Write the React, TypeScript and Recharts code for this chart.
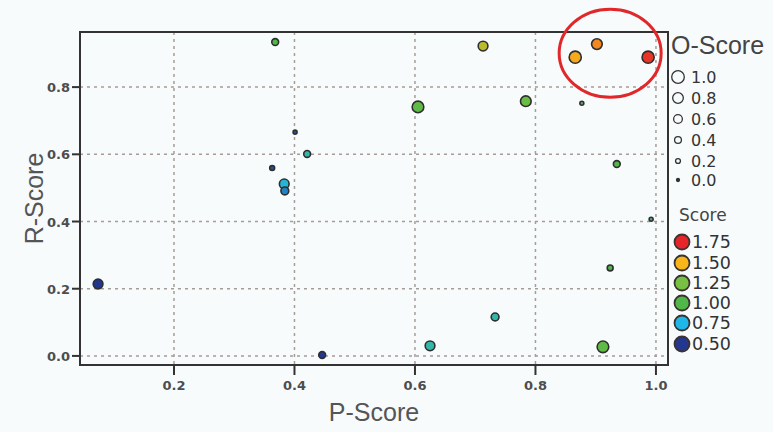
import {
  ScatterChart,
  Scatter,
  XAxis,
  YAxis,
  CartesianGrid,
  ReferenceArea,
  ReferenceDot,
} from 'recharts';

// P-Score (x), R-Score (y), O-Score (dot size), Score (dot colour)
const P_SCORE = [0.368, 0.713, 0.866, 0.902, 0.987, 0.605, 0.784, 0.877, 0.401, 0.421, 0.363, 0.383, 0.384, 0.935, 0.992, 0.924, 0.074, 0.733, 0.625, 0.912, 0.446];
const R_SCORE = [0.934, 0.922, 0.889, 0.928, 0.889, 0.741, 0.758, 0.752, 0.666, 0.601, 0.559, 0.512, 0.491, 0.571, 0.407, 0.262, 0.214, 0.116, 0.03, 0.027, 0.003];
const O_SCORE = [0.4, 0.7, 0.95, 0.8, 0.95, 0.9, 0.8, 0.1, 0.1, 0.4, 0.2, 0.7, 0.5, 0.4, 0.1, 0.3, 0.7, 0.5, 0.7, 0.9, 0.4];
const SCORE = [1.0, 1.38, 1.52, 1.58, 1.72, 1.1, 1.15, 0.95, 0.55, 0.85, 0.55, 0.78, 0.65, 1.0, 0.9, 1.0, 0.5, 0.85, 0.85, 1.1, 0.5];

const X_TICKS = [0.2, 0.4, 0.6, 0.8, 1.0];
const Y_TICKS = [0, 0.2, 0.4, 0.6, 0.8];
const X_DOMAIN = [0.044, 1.02];
const Y_DOMAIN = [-0.027, 0.964];

const O_LEGEND = [1.0, 0.8, 0.6, 0.4, 0.2, 0.0];
const SCORE_LEGEND = [1.75, 1.5, 1.25, 1.0, 0.75, 0.5];

// circled group in the top right corner
const HIGHLIGHT = { p: 0.924, r: 0.901 };

const STOPS: [number, string][] = [
  [0.5, '#24378f'],
  [0.75, '#1fb6e8'],
  [1.0, '#50b848'],
  [1.25, '#78c043'],
  [1.5, '#f8b61a'],
  [1.75, '#e5252a'],
];

const hex = (c: string) => [1, 3, 5].map((i) => parseInt(c.slice(i, i + 2), 16));

function scoreColor(s: number) {
  if (s <= STOPS[0][0]) return STOPS[0][1];
  for (let i = 1; i < STOPS.length; i++) {
    if (s <= STOPS[i][0]) {
      const [s0, c0] = STOPS[i - 1];
      const [s1, c1] = STOPS[i];
      const t = (s - s0) / (s1 - s0);
      const a = hex(c0);
      const b = hex(c1);
      const m = a.map((v, k) => Math.round(v + (b[k] - v) * t));
      return `rgb(${m[0]},${m[1]},${m[2]})`;
    }
  }
  return STOPS[STOPS.length - 1][1];
}

const radius = (o: number) => 1.5 + 4.8 * o;

const data = P_SCORE.map((p, i) => ({ p, r: R_SCORE[i], o: O_SCORE[i], s: SCORE[i] }));

const BG = '#f8fbfc';

function XTick({ x, y, payload }: any) {
  return (
    <text
      x={x}
      y={y + 13}
      textAnchor="middle"
      fontSize={13}
      fontWeight="bold"
      fontFamily="DejaVu Sans"
      fill="#4d4d4d"
    >
      {Number(payload.value).toFixed(1)}
    </text>
  );
}

function YTick({ x, y, payload }: any) {
  return (
    <text
      x={x}
      y={y + 5}
      textAnchor="end"
      fontSize={13}
      fontWeight="bold"
      fontFamily="DejaVu Sans"
      fill="#4d4d4d"
    >
      {Number(payload.value).toFixed(1)}
    </text>
  );
}

function Dot(props: any) {
  const { cx, cy, payload } = props;
  if (cx == null || cy == null) return null;
  return (
    <circle
      cx={cx}
      cy={cy}
      r={radius(payload.o)}
      fill={scoreColor(payload.s)}
      stroke="#2e2e2e"
      strokeWidth={1.6}
    />
  );
}

function Legends() {
  const sizeRows = [77, 98, 119, 140, 161, 180];
  const colorRows = [242, 263, 283, 303, 323, 344];
  return (
    <svg
      width={773}
      height={432}
      style={{ position: 'absolute', left: 0, top: 0, pointerEvents: 'none' }}
    >
      <text x={671} y={54} fontSize={25} fontFamily="Liberation Sans" fill="#444">
        O-Score
      </text>
      {O_LEGEND.map((o, i) => (
        <g key={o}>
          <circle
            cx={678}
            cy={sizeRows[i]}
            r={radius(o)}
            fill={o === 0 ? '#333' : 'none'}
            stroke="#333"
            strokeWidth={1.3}
          />
          <text x={691} y={sizeRows[i] + 6} fontSize={16} fontFamily="DejaVu Sans" fill="#333">
            {o.toFixed(1)}
          </text>
        </g>
      ))}
      <text x={679} y={221} fontSize={17} fontFamily="DejaVu Sans" fill="#444">
        Score
      </text>
      {SCORE_LEGEND.map((s, i) => (
        <g key={s}>
          <circle
            cx={682}
            cy={colorRows[i]}
            r={7.5}
            fill={scoreColor(s)}
            stroke="#3a3330"
            strokeWidth={1.8}
          />
          <text x={692} y={colorRows[i] + 6} fontSize={17.5} fontFamily="DejaVu Sans" fill="#333">
            {s.toFixed(2)}
          </text>
        </g>
      ))}
    </svg>
  );
}

export default function App() {
  return (
    <div style={{ position: 'absolute', left: 0, top: 0, width: 773, height: 432, background: BG }}>
      <ScatterChart width={773} height={432} margin={{ top: 32, right: 105, bottom: 37, left: 30 }}>
        <CartesianGrid stroke="#a89c98" strokeDasharray="3 4" strokeWidth={1.5} />
        <XAxis
          type="number"
          dataKey="p"
          domain={X_DOMAIN}
          ticks={X_TICKS}
          allowDataOverflow
          height={30}
          tickSize={10}
          tick={<XTick />}
          tickLine={{ stroke: '#333', strokeWidth: 2 }}
          axisLine={{ stroke: '#333', strokeWidth: 2 }}
          label={{
            content: ({ viewBox }: any) => (
              <text
                x={viewBox.x + viewBox.width / 2}
                y={viewBox.y + 56}
                textAnchor="middle"
                fontSize={25}
                fontFamily="Liberation Sans"
                fill="#555"
              >
                P-Score
              </text>
            ),
          }}
        />
        <YAxis
          type="number"
          dataKey="r"
          domain={Y_DOMAIN}
          ticks={Y_TICKS}
          allowDataOverflow
          width={50}
          tickSize={8}
          tick={<YTick />}
          tickLine={{ stroke: '#333', strokeWidth: 2 }}
          axisLine={{ stroke: '#333', strokeWidth: 2 }}
          label={{
            content: ({ viewBox }: any) => {
              const cx = 43;
              const cy = viewBox.y + viewBox.height / 2;
              return (
                <text
                  x={cx}
                  y={cy}
                  transform={`rotate(-90 ${cx} ${cy})`}
                  textAnchor="middle"
                  fontSize={25}
                  fontFamily="Liberation Sans"
                  fill="#555"
                >
                  R-Score
                </text>
              );
            },
          }}
        />
        <ReferenceArea
          x1={X_DOMAIN[0]}
          x2={X_DOMAIN[1]}
          y1={Y_DOMAIN[0]}
          y2={Y_DOMAIN[1]}
          fill="none"
          fillOpacity={0}
          stroke="#333"
          strokeWidth={2}
          ifOverflow="visible"
        />
        <Scatter data={data} shape={<Dot />} isAnimationActive={false} />
        <ReferenceDot
          x={HIGHLIGHT.p}
          y={HIGHLIGHT.r}
          ifOverflow="visible"
          shape={(props: any) => (
            <ellipse
              cx={props.cx}
              cy={props.cy}
              rx={51}
              ry={44}
              fill="none"
              stroke="#e0282a"
              strokeWidth={3}
            />
          )}
        />
      </ScatterChart>
      <Legends />
    </div>
  );
}
